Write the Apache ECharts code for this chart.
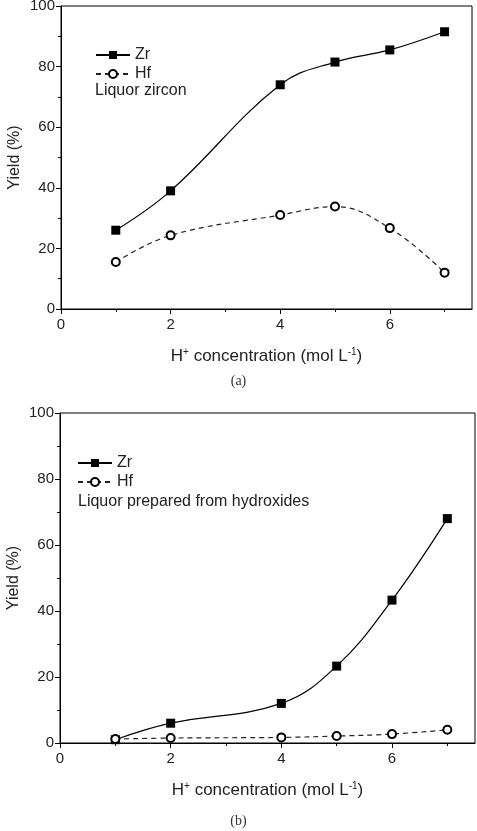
<!DOCTYPE html>
<html>
<head>
<meta charset="utf-8">
<script src="https://cdn.jsdelivr.net/npm/echarts@6/dist/echarts.min.js"></script>
<style>
  html, body { margin: 0; padding: 0; background: #fff; }
  #chart { width: 477px; height: 831px; }
</style>
</head>
<body>
<div id="chart"></div>
<script>
  // H+ concentration (mol/L)
  const conc = [1, 2, 4, 5, 6, 7]
  // (a) liquor zircon
  const zrA = [26, 39, 74, 81.5, 85.5, 91.5]
  const hfA = [15.5, 24.3, 31, 33.8, 26.7, 12]
  // (b) liquor prepared from hydroxides
  const zrB = [1, 6, 12, 23.3, 43.3, 68]
  const hfB = [1.2, 1.5, 1.7, 2.1, 2.7, 4]
  const xMajor = [0, 2, 4, 6]
  const xMinor = [1, 3, 5, 7]

  const font = 'Liberation Sans, Arial, sans-serif'
  const pairs = (ys) => conc.map((x, i) => [x, ys[i]])

  const chart = echarts.init(document.getElementById('chart'))

  function xAxes(gridIndex) {
    return [
      {
        gridIndex, type: 'value', min: 0, max: 7.5, position: 'bottom',
        axisLine: { show: true, onZero: false, lineStyle: { color: '#000' } },
        axisTick: { show: true, length: 5, customValues: xMajor, lineStyle: { color: '#000' } },
        axisLabel: { customValues: xMajor, color: '#222', fontSize: 15, fontFamily: font, margin: 8 },
        splitLine: { show: false },
        name: '{n|H}{s|+}{n| concentration (mol L}{s|-1}{n|)}',
        nameLocation: 'middle', nameGap: 38,
        nameTextStyle: {
          rich: {
            n: { fontSize: 17, fontFamily: font, color: '#222' },
            s: { fontSize: 10, fontFamily: font, color: '#222', verticalAlign: 'top', padding: [0, 0, 9, 0] }
          }
        }
      },
      {
        gridIndex, type: 'value', min: 0, max: 7.5, position: 'bottom',
        axisLine: { show: false },
        axisTick: { show: true, length: 3, customValues: xMinor, lineStyle: { color: '#000' } },
        axisLabel: { show: false },
        splitLine: { show: false }
      }
    ]
  }

  function yAxis(gridIndex) {
    return {
      gridIndex, type: 'value', min: 0, max: 100, interval: 20,
      axisLine: { show: true, lineStyle: { color: '#000' } },
      axisTick: { show: true, length: 5, lineStyle: { color: '#000' } },
      minorTick: { show: true, splitNumber: 2, length: 3, lineStyle: { color: '#000' } },
      axisLabel: { color: '#222', fontSize: 15, fontFamily: font, margin: 6 },
      splitLine: { show: false },
      name: 'Yield (%)', nameLocation: 'middle', nameGap: 38, nameMoveOverlap: false,
      nameTextStyle: { fontSize: 16, fontFamily: font, color: '#222' }
    }
  }

  function zrSeries(name, data, xi, yi) {
    return {
      name, type: 'line', xAxisIndex: xi, yAxisIndex: yi, data: pairs(data),
      smooth: 0.4, symbol: 'rect', symbolSize: 9,
      itemStyle: { color: '#000' },
      lineStyle: { color: '#000', width: 1.2, type: 'solid' }
    }
  }
  function hfSeries(name, data, xi, yi) {
    return {
      name, type: 'line', xAxisIndex: xi, yAxisIndex: yi, data: pairs(data),
      smooth: 0.4, symbol: 'emptyCircle', symbolSize: 8,
      itemStyle: { color: '#000', borderColor: '#000', borderWidth: 1.5 },
      lineStyle: { color: '#222', width: 1.2, type: [5, 4] }
    }
  }

  function legend(top, left, data) {
    return {
      orient: 'vertical', top, left, itemWidth: 34, itemHeight: 10, itemGap: 3,
      textStyle: { fontSize: 16, fontFamily: font, color: '#222' },
      data
    }
  }

  chart.setOption({
    animation: false,
    grid: [
      { left: 61, top: 6, right: 5, height: 303, outerBoundsMode: 'none', show: true, borderColor: '#000', borderWidth: 1 },
      { left: 60, top: 413, right: 2, height: 330, outerBoundsMode: 'none', show: true, borderColor: '#000', borderWidth: 1 }
    ],
    xAxis: [...xAxes(0), ...xAxes(1)],
    yAxis: [yAxis(0), yAxis(1)],
    legend: [
      legend(42, 90, ['Zr', 'Hf']),
      legend(450, 72, ['Zr ', 'Hf '])
    ],
    series: [
      zrSeries('Zr', zrA, 0, 0),
      hfSeries('Hf', hfA, 0, 0),
      zrSeries('Zr ', zrB, 2, 1),
      hfSeries('Hf ', hfB, 2, 1)
    ],
    graphic: [
      { type: 'text', left: 95, top: 83, style: { text: 'Liquor zircon', font: '16px ' + font, fill: '#222' } },
      { type: 'text', left: 78, top: 494, style: { text: 'Liquor prepared from hydroxides', font: '16px ' + font, fill: '#222' } },
      { type: 'text', left: 'center', top: 374, style: { text: '(a)', font: '14px Liberation Serif, serif', fill: '#333' } },
      { type: 'text', left: 'center', top: 814, style: { text: '(b)', font: '14px Liberation Serif, serif', fill: '#333' } }
    ]
  })
</script>
</body>
</html>
